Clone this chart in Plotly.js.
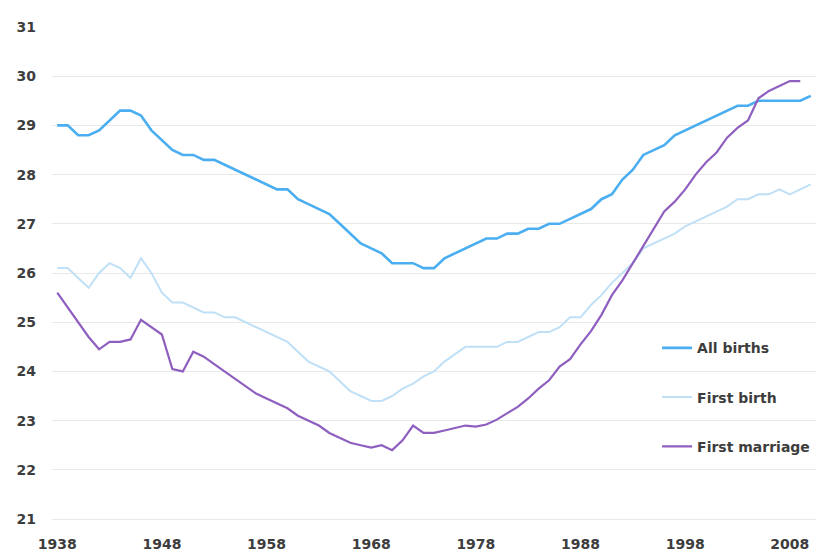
<!DOCTYPE html>
<html>
<head>
<meta charset="utf-8">
<script src="https://cdn.plot.ly/plotly-3.0.1.min.js"></script>
<style>html,body{margin:0;padding:0;background:#fff;}#chart{width:836px;height:558px;}</style>
</head>
<body>
<div id="chart"></div>
<script>
const years = [];
for (let y = 1938; y <= 2010; y++) years.push(y);

const allBirths = [29.0,29.0,28.8,28.8,28.9,29.1,29.3,29.3,29.2,28.9,
  28.7,28.5,28.4,28.4,28.3,28.3,28.2,28.1,28.0,27.9,
  27.8,27.7,27.7,27.5,27.4,27.3,27.2,27.0,26.8,26.6,
  26.5,26.4,26.2,26.2,26.2,26.1,26.1,26.3,26.4,26.5,
  26.6,26.7,26.7,26.8,26.8,26.9,26.9,27.0,27.0,27.1,
  27.2,27.3,27.5,27.6,27.9,28.1,28.4,28.5,28.6,28.8,
  28.9,29.0,29.1,29.2,29.3,29.4,29.4,29.5,29.5,29.5,
  29.5,29.5,29.6];

const firstBirth = [26.1,26.1,25.9,25.7,26.0,26.2,26.1,25.9,26.3,26.0,
  25.6,25.4,25.4,25.3,25.2,25.2,25.1,25.1,25.0,24.9,
  24.8,24.7,24.6,24.4,24.2,24.1,24.0,23.8,23.6,23.5,
  23.4,23.4,23.5,23.65,23.75,23.9,24.0,24.2,24.35,24.5,
  24.5,24.5,24.5,24.6,24.6,24.7,24.8,24.8,24.9,25.1,
  25.1,25.35,25.55,25.8,26.0,26.2,26.5,26.6,26.7,26.8,
  26.95,27.05,27.15,27.25,27.35,27.5,27.5,27.6,27.6,27.7,
  27.6,27.7,27.8];

const firstMarriage = [25.6,25.3,25.0,24.7,24.45,24.6,24.6,24.65,25.05,24.9,
  24.75,24.05,24.0,24.4,24.3,24.15,24.0,23.85,23.7,23.55,
  23.45,23.35,23.25,23.1,23.0,22.9,22.75,22.65,22.55,22.5,
  22.45,22.5,22.4,22.6,22.9,22.75,22.75,22.8,22.85,22.9,
  22.88,22.92,23.02,23.15,23.28,23.45,23.65,23.82,24.1,24.25,
  24.55,24.82,25.15,25.55,25.85,26.2,26.55,26.9,27.25,27.45,
  27.7,28.0,28.25,28.45,28.75,28.95,29.1,29.55,29.7,29.8,
  29.9,29.9];
const marriageYears = years.slice(0, firstMarriage.length);

const seriesNames = ["All births", "First birth", "First marriage"];
const xTicks = [1938, 1948, 1958, 1968, 1978, 1988, 1998, 2008];
const yTicks = [21, 22, 23, 24, 25, 26, 27, 28, 29, 30, 31];

const traces = [
  {x: years, y: allBirths, name: seriesNames[0], legendgroup: "a",
   mode: "lines", line: {color: "#4aaef0", width: 2.6}},
  {x: years, y: firstBirth, name: seriesNames[1], legendgroup: "b",
   mode: "lines", line: {color: "#bfe0f6", width: 2}},
  {x: marriageYears, y: firstMarriage, name: seriesNames[2], legendgroup: "c",
   mode: "lines", line: {color: "#8f5fc0", width: 2.2}}
];

const font = {family: "DejaVu Sans, Verdana, sans-serif", size: 14, color: "#3d3d3d", weight: "bold"};

const layout = {
  width: 836, height: 558,
  margin: {l: 52, r: 20, t: 27, b: 37},
  paper_bgcolor: "#fff", plot_bgcolor: "#fff",
  font: font,
  showlegend: true,
  legend: {x: 0.792, xanchor: "left", y: 0.382, yanchor: "top",
           tracegroupgap: 28, font: font,
           bgcolor: "rgba(0,0,0,0)"},
  xaxis: {range: [1937.5, 2010.5], tickvals: xTicks, ticktext: xTicks.map(String),
          showgrid: false, zeroline: false, showline: false, ticks: "",
          ticklabelstandoff: 13, tickfont: font, fixedrange: true},
  yaxis: {range: [20.96, 31], tickvals: yTicks, showgrid: true, gridcolor: "#e9e9e9",
          gridwidth: 1, zeroline: false, showline: false, ticks: "",
          ticklabelstandoff: 15, tickfont: font, fixedrange: true}
};

Plotly.newPlot("chart", traces, layout, {displayModeBar: false, staticPlot: true});
</script>
</body>
</html>
